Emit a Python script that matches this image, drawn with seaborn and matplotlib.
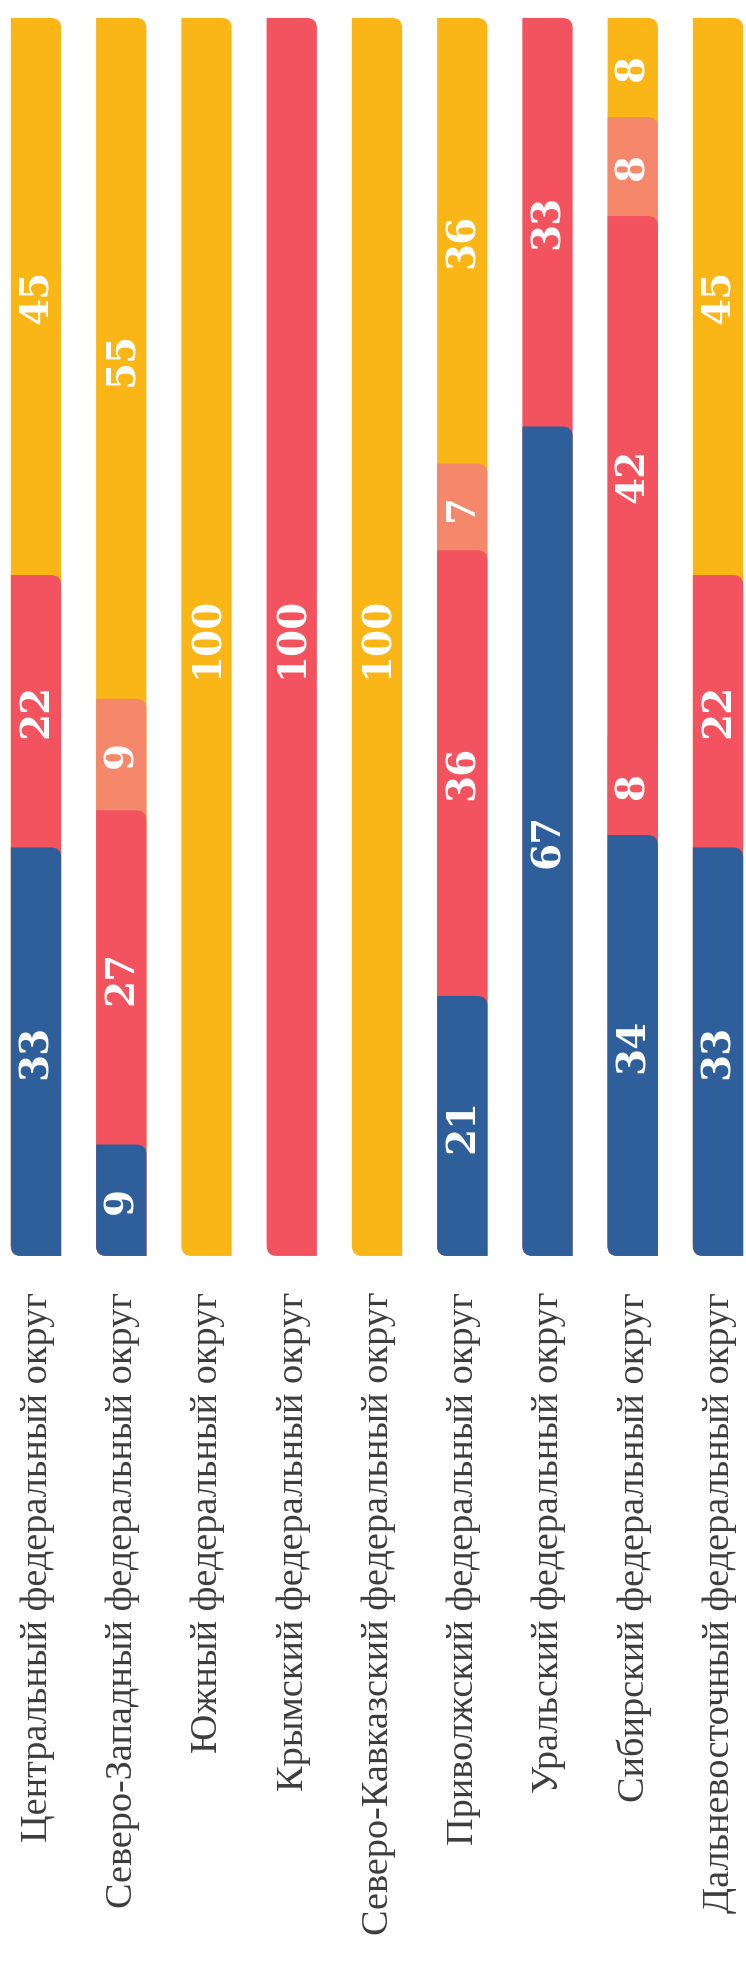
import matplotlib
matplotlib.use("Agg")
import matplotlib.pyplot as plt
from matplotlib.path import Path
from matplotlib.patches import PathPatch
import numpy as np
import pandas as pd
import seaborn as sns

regions = [
    "Центральный федеральный округ",
    "Северо-Западный федеральный округ",
    "Южный федеральный округ",
    "Крымский федеральный округ",
    "Северо-Кавказский федеральный округ",
    "Приволжский федеральный округ",
    "Уральский федеральный округ",
    "Сибирский федеральный округ",
    "Дальневосточный федеральный округ",
]

# shares, bottom to top of every column
blue = [33, 9, 0, 0, 0, 21, 67, 34, 33]
red = [22, 27, 0, 100, 0, 36, 33, 8, 22]
red_extra = [0, 0, 0, 0, 0, 0, 0, 42, 0]
salmon = [0, 9, 0, 0, 0, 7, 0, 8, 0]
yellow = [45, 55, 100, 0, 100, 36, 0, 8, 45]

segments = [blue, red, red_extra, salmon, yellow]
colors = ["#2f5f9b", "#f3535f", "#f3535f", "#f5876b", "#fab517"]

sns.set_theme(style="white")
plt.rcParams["font.family"] = ["DejaVu Sans"]

fig = plt.figure(figsize=(7.46, 19.73), dpi=100, facecolor="white")
ax = fig.add_axes([0, 0, 1, 1])

RX, RY = 0.12, 0.8  # corner radius in data units (x, y)


def rounded_bar(x0, y0, w, h, rx, ry):
    # square corners except bottom-left and top-right
    x1, y1 = x0 + w, y0 + h
    ry = min(ry, h / 2)
    verts = [(x0 + rx, y0), (x1, y0), (x1, y1 - ry), (x1, y1), (x1 - rx, y1),
             (x0, y1), (x0, y0 + ry), (x0, y0), (x0 + rx, y0), (x0 + rx, y0)]
    codes = [Path.MOVETO, Path.LINETO, Path.LINETO, Path.CURVE3, Path.CURVE3,
             Path.LINETO, Path.LINETO, Path.CURVE3, Path.CURVE3, Path.CLOSEPOLY]
    return Path(verts, codes)


cum = np.cumsum(np.array(segments), axis=0)

# draw the cumulative layers from the top one down, each covering the next
for k in range(len(segments) - 1, -1, -1):
    heights = np.where(np.array(segments[k]) > 0, cum[k], 0)
    df = pd.DataFrame({"region": regions, "height": heights})
    n_before = len(ax.patches)
    sns.barplot(data=df, x="region", y="height", order=regions, color=colors[k],
                saturation=1, width=0.59, errorbar=None, ax=ax)
    for p in list(ax.patches[n_before:]):
        x, y = p.get_x(), p.get_y()
        w, h = p.get_width(), p.get_height()
        p.remove()
        if h <= 0:
            continue
        ax.add_patch(PathPatch(rounded_bar(x, y, w, h, RX, RY), facecolor=colors[k],
                               edgecolor="none", zorder=2 + (len(segments) - k)))

# values inside the segments
for k, seg in enumerate(segments):
    for i, v in enumerate(seg):
        if v <= 0:
            continue
        mid = cum[k][i] - v / 2
        ax.text(i, mid, str(v), rotation=90, ha="center", va="center",
                color="white", fontsize=28, fontweight="bold",
                family=["DejaVu Serif"], zorder=10)

# region names under the columns
for i, name in enumerate(regions):
    ax.text(i + 0.02, -2.9, name, rotation=90, ha="center", va="top",
            fontsize=27.5, color="#3c3c3c", family=["Liberation Serif"])

ax.set_xlim(-0.4223, 8.3284)
ax.set_ylim(-57.92, 101.45)
ax.set_xlabel("")
ax.set_ylabel("")
ax.axis("off")

fig.savefig("out.png", dpi=100, facecolor="white")
